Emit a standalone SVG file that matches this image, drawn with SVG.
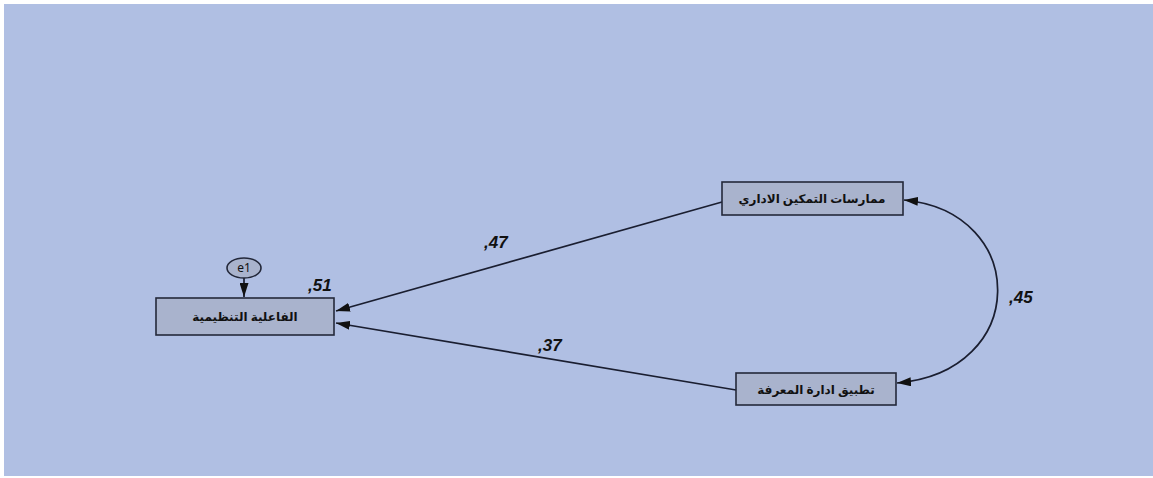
<svg xmlns="http://www.w3.org/2000/svg" width="1153" height="478" viewBox="0 0 1153 478">
<style>
.box{fill:#a9b3cd;stroke:#23283a;stroke-width:1.6}
.lbl{font-family:"Noto Sans","DejaVu Sans",sans-serif;font-size:12px;font-weight:bold;fill:#111;text-anchor:middle}
.coef{font-family:"Liberation Sans",Arial,sans-serif;font-size:17px;font-weight:bold;font-style:italic;fill:#111}
.conn{fill:none;stroke:#1a1e30;stroke-width:1.7}
</style>
<defs>
<marker id="ah" viewBox="0 0 14 9" refX="14" refY="4.5" markerWidth="14" markerHeight="9" markerUnits="userSpaceOnUse" orient="auto-start-reverse">
<path d="M0,0 L14,4.5 L0,9 Z" fill="#111"/>
</marker>
</defs>
<rect x="0" y="0" width="1153" height="478" fill="#ffffff"/>
<rect x="4" y="4" width="1149" height="472" fill="#b0bfe3"/>
<g id="connectors">
<line class="conn" x1="722" y1="202" x2="336" y2="311" marker-end="url(#ah)"/>
<line class="conn" x1="736" y1="390" x2="336" y2="323" marker-end="url(#ah)"/>
<line class="conn" x1="244" y1="278" x2="244" y2="297" marker-end="url(#ah)"/>
<path class="conn" d="M904,200 C1030,212 1030,372 897,383" marker-start="url(#ah)" marker-end="url(#ah)"/>
</g>
<g id="e1">
<ellipse cx="244" cy="268" rx="17" ry="10" fill="#a9b3cd" stroke="#23283a" stroke-width="1.6"/>
<text x="244" y="272" class="lbl" style="font-weight:normal">e1</text>
</g>
<g id="node-effectiveness">
<rect class="box" x="156" y="298" width="178" height="37"/>
<text x="245" y="321" class="lbl" direction="rtl">الفاعلية التنظيمية</text>
</g>
<g id="node-empowerment">
<rect class="box" x="722" y="182" width="181" height="33"/>
<text x="812" y="203" class="lbl" direction="rtl">ممارسات التمكين الاداري</text>
</g>
<g id="node-km">
<rect class="box" x="736" y="373" width="160" height="32"/>
<text x="816" y="394" class="lbl" direction="rtl">تطبيق ادارة المعرفة</text>
</g>
<g id="labels">
<text x="484" y="248" class="coef">,47</text>
<text x="308" y="291" class="coef">,51</text>
<text x="538" y="351" class="coef">,37</text>
<text x="1009" y="303" class="coef">,45</text>
</g>
</svg>
